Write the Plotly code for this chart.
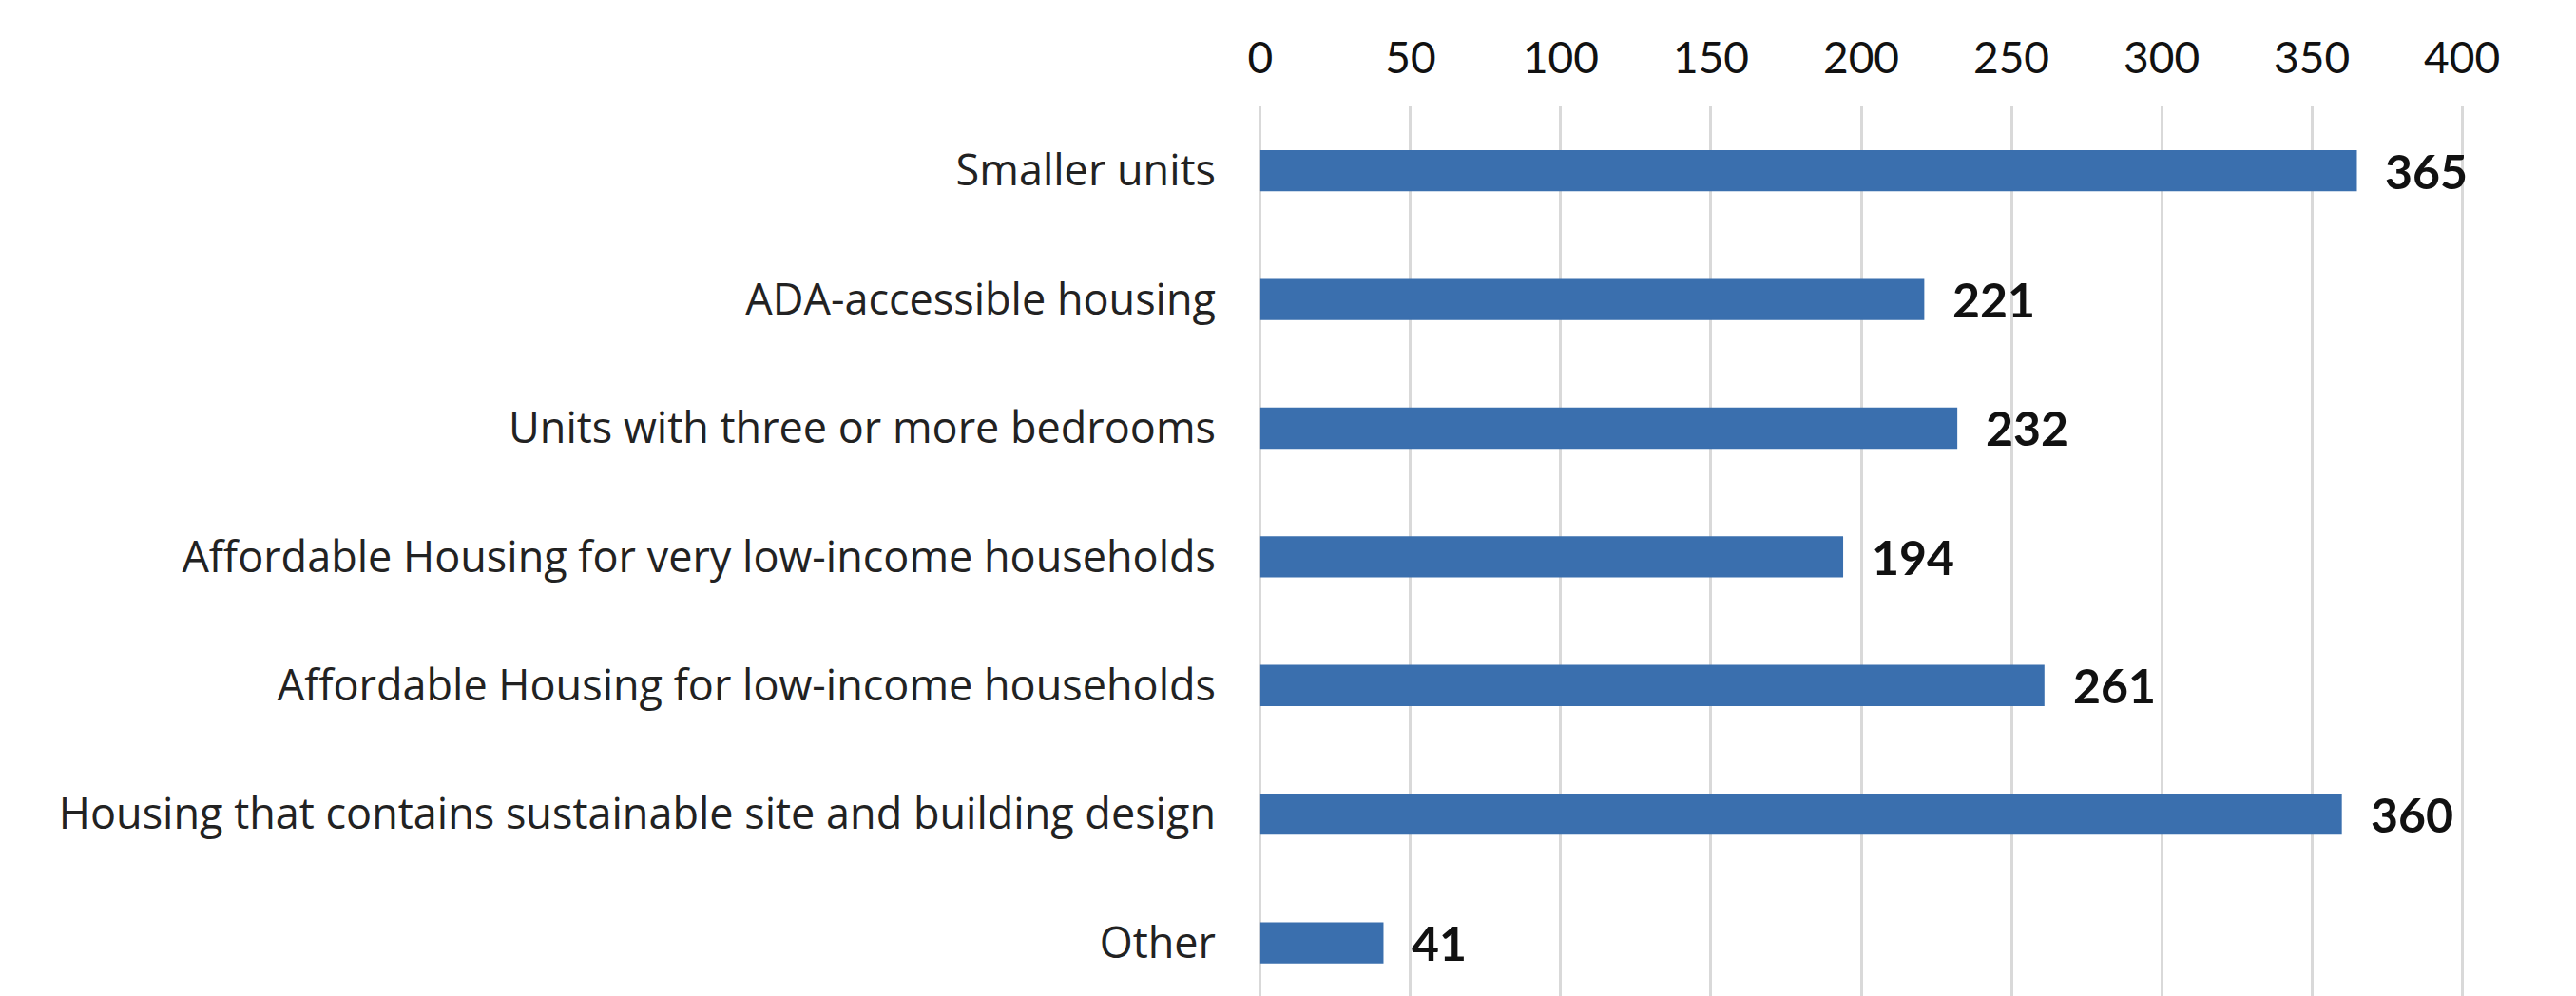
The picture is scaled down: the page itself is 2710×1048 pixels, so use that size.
import plotly.graph_objects as go

categories = [
    "Smaller units",
    "ADA-accessible housing",
    "Units with three or more bedrooms",
    "Affordable Housing for very low-income households",
    "Affordable Housing for low-income households",
    "Housing that contains sustainable site and building design",
    "Other",
]
values = [365, 221, 232, 194, 261, 360, 41]
tick_values = [0, 50, 100, 150, 200, 250, 300, 350, 400]

BAR_COLOR = "#3a6fae"
FONT = "Lato, Liberation Sans, Arial, sans-serif"
LABEL_FONT = "Open Sans, Liberation Sans, Arial, sans-serif"

fig = go.Figure()
fig.add_trace(go.Bar(
    x=values,
    y=categories,
    orientation="h",
    marker=dict(color=BAR_COLOR, line=dict(width=0)),
    width=0.32,
    hoverinfo="x+y",
))

for v, c in zip(values, categories):
    fig.add_annotation(
        x=v, y=c, text=str(v), showarrow=False,
        xanchor="left", yanchor="middle", xshift=28,
        font=dict(family=FONT, size=50, color="#111111", weight="bold"),
    )

fig.update_layout(
    width=2710, height=1048,
    margin=dict(l=1324, r=118, t=112, b=0, autoexpand=False),
    paper_bgcolor="white", plot_bgcolor="white",
    showlegend=False,
    font=dict(family=FONT, color="#222222"),
)
fig.update_xaxes(
    side="top", range=[-0.6, 400.6], tickvals=tick_values,
    showgrid=True, gridcolor="#d9d9d9", gridwidth=3,
    zeroline=False, showline=False, ticks="",
    tickfont=dict(family=FONT, size=46, color="#111111"),
    ticklabelstandoff=25, automargin=False,
)
fig.update_yaxes(
    categoryorder="array", categoryarray=categories,
    range=[6.413, -0.5], showgrid=False, zeroline=False, showline=False,
    ticks="", tickfont=dict(family=LABEL_FONT, size=45, color="#222222"),
    ticklabelstandoff=44, automargin=False,
)

fig.write_html("out.html")
